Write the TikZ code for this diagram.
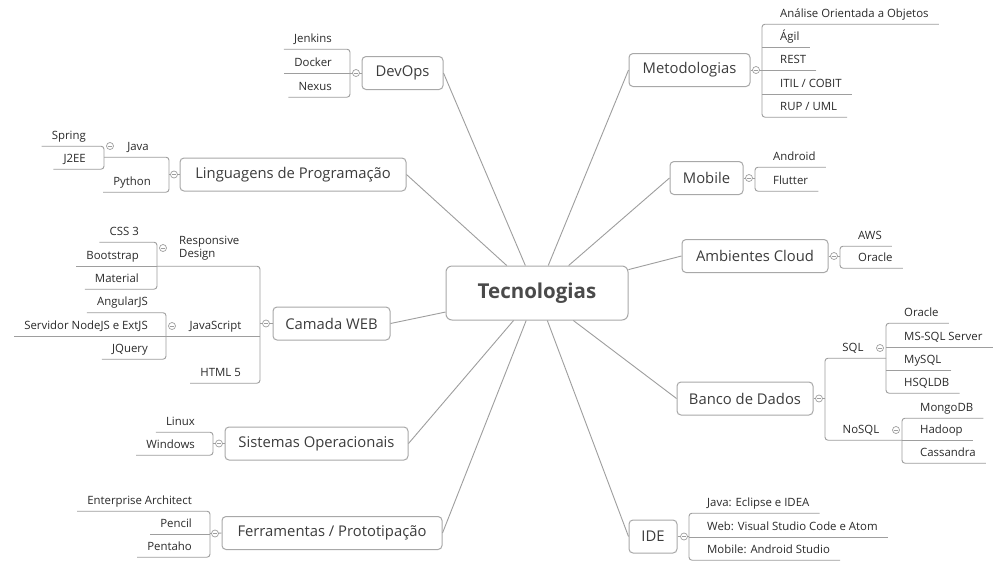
\documentclass[tikz,border=0pt]{standalone}
\usepackage{fontspec}
\setmainfont{Open Sans}
\usepackage{tikz}
\usetikzlibrary{positioning,calc}
\definecolor{cLinha}{HTML}{9E9E9E}
\definecolor{cBorda}{HTML}{A8A8A8}
\definecolor{cTexto}{HTML}{2A2A2A}
\definecolor{cTopico}{HTML}{3C3C3C}
\definecolor{cCentro}{HTML}{4A4A4A}
\tikzset{
	central/.style={draw=cBorda, fill=white, rounded corners=6pt, line width=1pt, minimum width=182pt, minimum height=54pt, font=\fontsize{20.5}{24}\selectfont\bfseries, text=cCentro},
	topico/.style={draw=cBorda, fill=white, rounded corners=4pt, line width=1pt, minimum height=33pt, inner xsep=6pt, font=\fontsize{14.8}{17}\selectfont, text=cTopico},
	folha/.style={inner xsep=10pt, inner ysep=5pt, text height=8pt, text depth=2pt, font=\fontsize{11.4}{13}\selectfont, text=cTexto},
	folhaD/.style={folha, anchor=west},
	folhaE/.style={folha, anchor=east},
	ramo/.style={draw=cLinha, line width=0.9pt, rounded corners=3pt},
	liga/.style={draw=cLinha, line width=0.9pt},
	botao/.style={circle, draw=cLinha, fill=white, line width=0.7pt, minimum size=7pt, inner sep=0pt,
		path picture={\draw[cLinha, line width=0.6pt] ([xshift=-2pt]path picture bounding box.center) -- ([xshift=2pt]path picture bounding box.center);}}
}
\begin{document}
\begin{tikzpicture}[x=1pt, y=-1pt]
	\fill[white] (0,0) rectangle (997,566);
	\useasboundingbox (0,0) rectangle (997,566);
	
	\node[central] (tec) at (537,293) {Tecnologias};
	
	\node[topico, minimum width=81pt] (devops) at (402.5,73) {DevOps};
	\node[topico, minimum width=226pt] (ling) at (293,174.5) {Linguagens de Programação};
	\node[topico, minimum width=117pt] (web) at (331.5,323.5) {Camada WEB};
	\node[topico, minimum width=183pt] (so) at (316.5,443.5) {Sistemas Operacionais};
	\node[topico, minimum width=220pt] (ferr) at (332,533) {Ferramentas / Prototipação};
	\node[topico, minimum width=121pt] (met) at (689.5,70) {Metodologias};
	\node[topico, minimum width=73pt] (mob) at (706.5,178) {Mobile};
	\node[topico, minimum width=146pt] (cloud) at (755,256) {Ambientes Cloud};
	\node[topico, minimum width=136pt] (banco) at (745,398.5) {Banco de Dados};
	\node[topico, minimum width=48pt] (ide) at (653,536.5) {IDE};
	
	\foreach \t in {devops,ling,web,so,ferr}
		\draw[liga] (tec) -- (\t.east);
	\foreach \t in {met,mob,cloud,banco,ide}
		\draw[liga] (tec) -- (\t.west);
	
	\coordinate (bDevops) at (350,73);
	\node[folhaE] (jenkins) at (342,39) {Jenkins};
	\node[folhaE] (docker) at (342,63) {Docker};
	\node[folhaE] (nexus) at (342,87) {Nexus};
	\draw[ramo] (jenkins.south west) -- (jenkins.south -| bDevops) -- (nexus.south -| bDevops) -- (nexus.south west);
	\draw[liga] (docker.south west) -- (docker.south -| bDevops);
	\draw[liga] (devops.west) -- (bDevops);
	\node[botao] (fDevops) at (356,73) {};
	
	\coordinate (bLing) at (169,174.5);
	\coordinate (bJava) at (104,147);
	\node[folha] (java) at (138,147) {Java};
	\node[folhaE] (python) at (161,182) {Python};
	\draw[ramo] (java.south -| bJava) -- (java.south -| bLing) -- (python.south -| bLing) -- (python.south west);
	\draw[liga] (ling.west) -- (bLing);
	\node[botao] (fLing) at (174,174.5) {};
	\node[folhaE] (spring) at (96,136) {Spring};
	\node[folhaE] (j2ee) at (96,159) {J2EE};
	\draw[ramo] (spring.south west) -- (spring.south -| bJava) -- (j2ee.south -| bJava) -- (j2ee.south west);
	\node[botao] (fJava) at (110,146) {};
	
	\coordinate (bWeb) at (260,323.5);
	\coordinate (bResp) at (157,248);
	\coordinate (bJs) at (166,326);
	\node[anchor=west, inner sep=0pt, align=left, font=\fontsize{11.4}{13}\selectfont, text=cTexto] (resp) at (179,248.5) {Responsive\\Design};
	\node[folha] (js) at (215.5,326) {JavaScript};
	\node[folhaE] (html) at (251,373) {HTML 5};
	\node[folhaE] (css) at (149,232) {CSS 3};
	\node[folhaE] (bootstrap) at (149,256) {Bootstrap};
	\node[folhaE] (material) at (149,279) {Material};
	\node[folhaE] (angular) at (158,302.5) {AngularJS};
	\node[folhaE] (servidor) at (158,326) {Servidor NodeJS e ExtJS};
	\node[folhaE] (jquery) at (158,349) {JQuery};
	\draw[ramo] (bootstrap.south -| bResp) -- (bootstrap.south -| bWeb) -- (html.south -| bWeb) -- (html.south west);
	\draw[liga] (js.south -| bJs) -- (js.south -| bWeb);
	\draw[liga] (web.west) -- (bWeb);
	\draw[ramo] (css.south west) -- (css.south -| bResp) -- (material.south -| bResp) -- (material.south west);
	\draw[liga] (bootstrap.south west) -- (bootstrap.south -| bResp);
	\draw[ramo] (angular.south west) -- (angular.south -| bJs) -- (jquery.south -| bJs) -- (jquery.south west);
	\draw[liga] (servidor.south west) -- (servidor.south -| bJs);
	\node[botao] (fWeb) at (266,323.5) {};
	\node[botao] (fResp) at (163,248) {};
	\node[botao] (fJs) at (172,326) {};
	
	\coordinate (bSo) at (213,443.5);
	\node[folhaE] (linux) at (205,422) {Linux};
	\node[folhaE] (windows) at (205,445) {Windows};
	\draw[ramo] (linux.south west) -- (linux.south -| bSo) -- (windows.south -| bSo) -- (windows.south west);
	\draw[liga] (so.west) -- (bSo);
	\node[botao] (fSo) at (219,443.5) {};
	
	\coordinate (bFerr) at (210,533.5);
	\node[folhaE] (ea) at (202,501) {Enterprise Architect};
	\node[folhaE] (pencil) at (202,524) {Pencil};
	\node[folhaE] (pentaho) at (202,547) {Pentaho};
	\draw[ramo] (ea.south west) -- (ea.south -| bFerr) -- (pentaho.south -| bFerr) -- (pentaho.south west);
	\draw[liga] (pencil.south west) -- (pencil.south -| bFerr);
	\draw[liga] (ferr.west) -- (bFerr);
	\node[botao] (fFerr) at (215,533.5) {};
	
	\coordinate (bMet) at (762,70);
	\node[folhaD] (analise) at (770,14) {Análise Orientada a Objetos};
	\node[folhaD] (agil) at (770,37) {Ágil};
	\node[folhaD] (rest) at (770,60) {REST};
	\node[folhaD] (itil) at (770,84) {ITIL / COBIT};
	\node[folhaD] (rup) at (770,107) {RUP / UML};
	\draw[ramo] (analise.south east) -- (analise.south -| bMet) -- (rup.south -| bMet) -- (rup.south east);
	\foreach \f in {agil,rest,itil}
		\draw[liga] (\f.south east) -- (\f.south -| bMet);
	\draw[liga] (met.east) -- (bMet);
	\node[botao] (fMet) at (756,70) {};
	
	\coordinate (bMob) at (755,178);
	\node[folhaD] (android) at (763,157) {Android};
	\node[folhaD] (flutter) at (763,181) {Flutter};
	\draw[ramo] (android.south east) -- (android.south -| bMob) -- (flutter.south -| bMob) -- (flutter.south east);
	\draw[liga] (mob.east) -- (bMob);
	\node[botao] (fMob) at (749,178) {};
	
	\coordinate (bCloud) at (840,257);
	\node[folhaD] (aws) at (848,236) {AWS};
	\node[folhaD] (oracleC) at (848,258) {Oracle};
	\draw[ramo] (aws.south east) -- (aws.south -| bCloud) -- (oracleC.south -| bCloud) -- (oracleC.south east);
	\draw[liga] (cloud.east) -- (cloud.east -| bCloud);
	\node[botao] (fCloud) at (834,256) {};
	
	\coordinate (bBanco) at (825,398.5);
	\coordinate (bSql) at (886,348);
	\coordinate (bNosql) at (902,430);
	\node[folha] (sql) at (853,348) {SQL};
	\node[folha] (nosql) at (861,430) {NoSQL};
	\draw[ramo] (sql.south -| bSql) -- (sql.south -| bBanco) -- (nosql.south -| bBanco) -- (nosql.south -| bNosql);
	\draw[liga] (banco.east) -- (bBanco);
	\node[botao] (fBanco) at (819,398.5) {};
	\node[folhaD] (oracleS) at (894,313) {Oracle};
	\node[folhaD] (mssql) at (894,337) {MS-SQL Server};
	\node[folhaD] (mysql) at (894,360) {MySQL};
	\node[folhaD] (hsqldb) at (894,383) {HSQLDB};
	\draw[ramo] (oracleS.south east) -- (oracleS.south -| bSql) -- (hsqldb.south -| bSql) -- (hsqldb.south east);
	\foreach \f in {mssql,mysql}
		\draw[liga] (\f.south east) -- (\f.south -| bSql);
	\node[botao] (fSql) at (880,348) {};
	\node[folhaD] (mongo) at (910,408) {MongoDB};
	\node[folhaD] (hadoop) at (910,430) {Hadoop};
	\node[folhaD] (cassandra) at (910,453) {Cassandra};
	\draw[ramo] (mongo.south east) -- (mongo.south -| bNosql) -- (cassandra.south -| bNosql) -- (cassandra.south east);
	\draw[liga] (hadoop.south east) -- (hadoop.south -| bNosql);
	\node[botao] (fNosql) at (896,430) {};
	
	\coordinate (bIde) at (689,536.5);
	\node[folhaD] (eclipse) at (697,503) {Java: Eclipse e IDEA};
	\node[folhaD] (vscode) at (697,527) {Web: Visual Studio Code e Atom};
	\node[folhaD] (astudio) at (697,550) {Mobile: Android Studio};
	\draw[ramo] (eclipse.south east) -- (eclipse.south -| bIde) -- (astudio.south -| bIde) -- (astudio.south east);
	\draw[liga] (vscode.south east) -- (vscode.south -| bIde);
	\draw[liga] (ide.east) -- (bIde);
	\node[botao] (fIde) at (684,536.5) {};
\end{tikzpicture}
\end{document}
